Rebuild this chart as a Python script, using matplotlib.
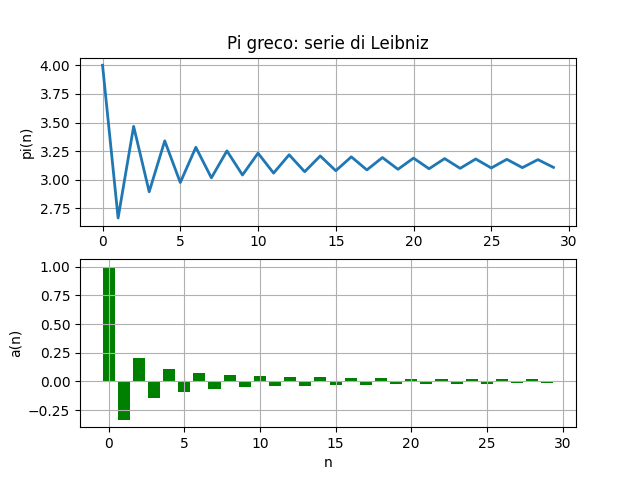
import matplotlib
matplotlib.use('Agg')
import matplotlib.pyplot as plt

# indici n
n = list(range(30))

# somme parziali 4*sum(a(k))
pi_n = [4.0, 2.66667, 3.46667, 2.89524, 3.33968, 2.97605, 3.28374, 3.01707,
        3.25237, 3.04184, 3.23232, 3.05840, 3.21840, 3.07026, 3.20819, 3.07915,
        3.20037, 3.08608, 3.19419, 3.09162, 3.18918, 3.09616, 3.18505, 3.09995,
        3.18158, 3.10315, 3.17862, 3.10589, 3.17607, 3.10827]

# termini della serie
a_n = [1.0, -0.33333, 0.2, -0.14286, 0.11111, -0.09091, 0.07692, -0.06667,
       0.05882, -0.05263, 0.04762, -0.04348, 0.04, -0.03704, 0.03448, -0.03226,
       0.0303, -0.02857, 0.02703, -0.02564, 0.02439, -0.02326, 0.02222, -0.02128,
       0.02041, -0.01961, 0.01887, -0.01818, 0.01754, -0.01695]

fig, (ax1, ax2) = plt.subplots(2, 1, figsize=(6.4, 4.8), dpi=100)

ax1.plot(n, pi_n, lw=2)
ax1.set_title('Pi greco: serie di Leibniz')
ax1.set_ylabel('pi(n)')
ax1.grid(True)

ax2.bar(n, a_n, color='green')
ax2.set_xlabel('n')
ax2.set_ylabel('a(n)')
ax2.grid(True)

fig.savefig('out.png')
